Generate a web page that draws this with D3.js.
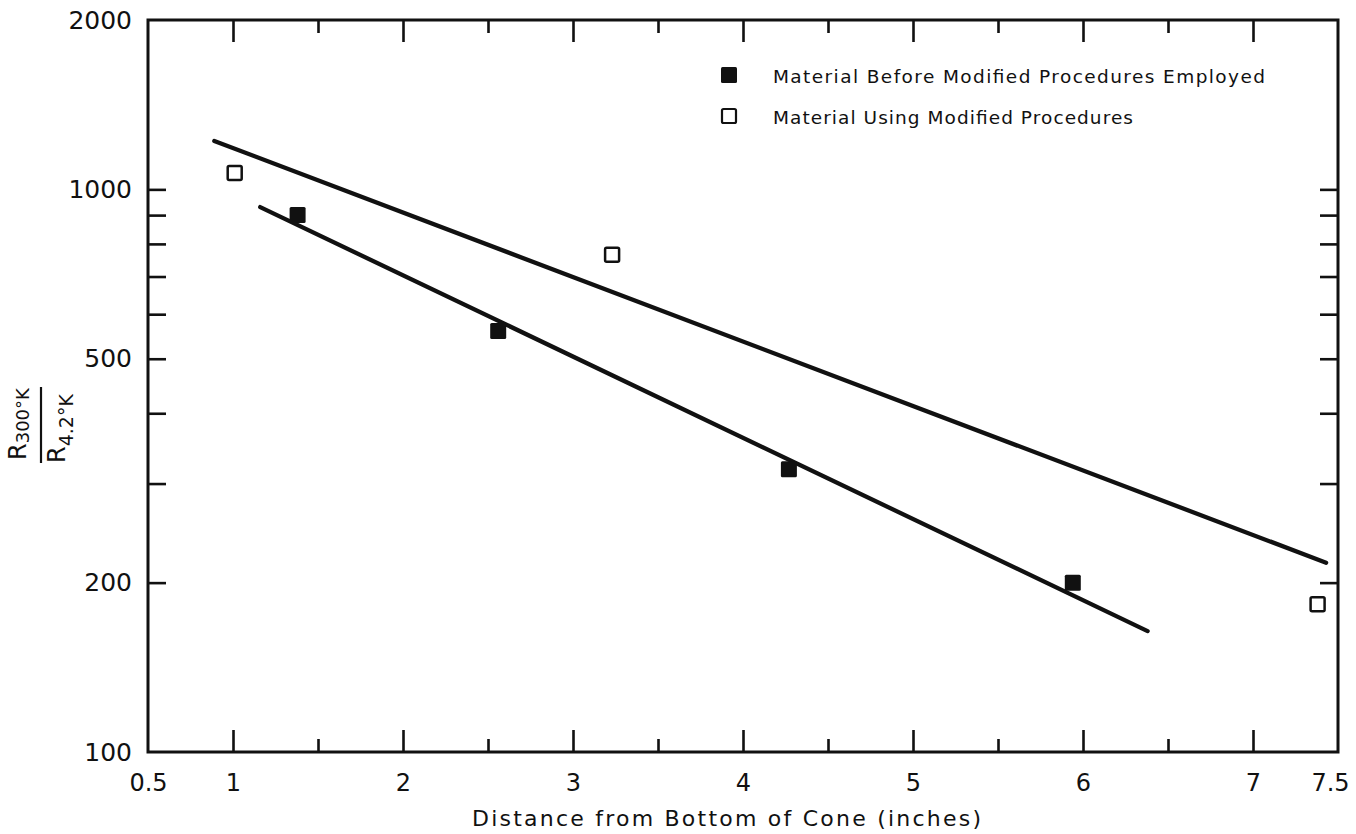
<!DOCTYPE html>
<html>
<head>
<meta charset="utf-8">
<script src="https://cdn.jsdelivr.net/npm/d3@7/dist/d3.min.js"></script>
<style>
  html, body { margin: 0; padding: 0; background: #fff; }
  svg { display: block; font-family: "DejaVu Sans", sans-serif; }
  .axis path.domain { display: none; }
  .axis line { stroke: #111; stroke-width: 2.6; }
  .axis text { fill: #111; }
</style>
</head>
<body>
<svg id="chart" width="1356" height="834"></svg>
<script>
// Resistance ratio vs. distance from cone bottom
const beforeX = [1.38, 2.56, 4.27, 5.94];
const beforeY = [900, 560, 318, 200];
const modifiedX = [1.01, 3.23, 7.38];
const modifiedY = [1069, 765, 183];

// fitted trend lines (end points)
const fitBeforeX = [1.16, 6.38];
const fitBeforeY = [930, 164];
const fitModifiedX = [0.89, 7.43];
const fitModifiedY = [1219, 217];

const xMajorTicks = [1, 2, 3, 4, 5, 6, 7];
const xMinorTicks = [1.5, 2.5, 3.5, 4.5, 5.5, 6.5];
const xTickLabels = [0.5, 1, 2, 3, 4, 5, 6, 7, 7.5];
const yTicks = [200, 300, 400, 500, 600, 700, 800, 900, 1000];
const yTickLabels = [100, 200, 500, 1000, 2000];

const legendLabels = [
  "Material Before Modified Procedures Employed",
  "Material Using Modified Procedures"
];

const svg = d3.select("#chart");
const plotL = 148, plotR = 1338, plotT = 20, plotB = 752;

const x = d3.scaleLinear().domain([0.5, 7.5]).range([plotL, plotR]);
const y = d3.scaleLog().domain([100, 2000]).range([plotB, plotT]);

const ink = "#111";

// frame
svg.append("rect")
  .attr("x", plotL).attr("y", plotT)
  .attr("width", plotR - plotL).attr("height", plotB - plotT)
  .attr("fill", "none").attr("stroke", ink).attr("stroke-width", 3);

// inward ticks on all four sides
const noLabel = () => "";
svg.append("g").attr("class", "axis").attr("transform", `translate(0,${plotB})`)
  .call(d3.axisBottom(x).tickValues(xMajorTicks).tickSize(-22).tickFormat(noLabel));
svg.append("g").attr("class", "axis").attr("transform", `translate(0,${plotB})`)
  .call(d3.axisBottom(x).tickValues(xMinorTicks).tickSize(-13).tickFormat(noLabel));
svg.append("g").attr("class", "axis").attr("transform", `translate(0,${plotT})`)
  .call(d3.axisTop(x).tickValues(xMajorTicks).tickSize(-22).tickFormat(noLabel));
svg.append("g").attr("class", "axis").attr("transform", `translate(0,${plotT})`)
  .call(d3.axisTop(x).tickValues(xMinorTicks).tickSize(-13).tickFormat(noLabel));
svg.append("g").attr("class", "axis").attr("transform", `translate(${plotL},0)`)
  .call(d3.axisLeft(y).tickValues(yTicks).tickSize(-18).tickFormat(noLabel));
svg.append("g").attr("class", "axis").attr("transform", `translate(${plotR},0)`)
  .call(d3.axisRight(y).tickValues(yTicks).tickSize(-18).tickFormat(noLabel));

// tick labels
const xl = svg.append("g").attr("class", "axis").attr("transform", `translate(0,${plotB})`)
  .call(d3.axisBottom(x).tickValues(xTickLabels).tickSize(0).tickPadding(22)
    .tickFormat(d => String(d)));
xl.selectAll("text").attr("font-size", 24).attr("font-family", "DejaVu Sans")
  .attr("dx", d => d === 7.5 ? -8 : 0);

const yl = svg.append("g").attr("class", "axis").attr("transform", `translate(${plotL},0)`)
  .call(d3.axisLeft(y).tickValues(yTickLabels).tickSize(0).tickPadding(16)
    .tickFormat(d => String(d)));
yl.selectAll("text").attr("font-size", 25).attr("font-family", "DejaVu Sans");

// x axis title
svg.append("text")
  .attr("x", 472).attr("y", 826)
  .attr("font-size", 22).attr("fill", ink)
  .attr("textLength", 509).attr("lengthAdjust", "spacing")
  .text("Distance from Bottom of Cone (inches)");

// y axis title: R(300°K) / R(4.2°K)
const yt = svg.append("g").attr("transform", "translate(41,425) rotate(-90)");
yt.append("line").attr("x1", -38).attr("x2", 38).attr("y1", 0).attr("y2", 0)
  .attr("stroke", ink).attr("stroke-width", 2.2);
const num = yt.append("text").attr("x", -35).attr("y", -15).attr("fill", ink).attr("font-size", 24);
num.append("tspan").text("R");
num.append("tspan").attr("dy", 3).attr("font-size", 18).text("300°K");
const den = yt.append("text").attr("x", -38).attr("y", 24).attr("fill", ink).attr("font-size", 24);
den.append("tspan").text("R");
den.append("tspan").attr("dy", 8).attr("font-size", 19).text("4.2°K");

// trend lines
const line = d3.line().x(d => x(d[0])).y(d => y(d[1]));
const fits = [
  d3.zip(fitModifiedX, fitModifiedY),
  d3.zip(fitBeforeX, fitBeforeY)
];
svg.selectAll("path.fit").data(fits).join("path")
  .attr("class", "fit")
  .attr("d", line)
  .attr("fill", "none").attr("stroke", ink)
  .attr("stroke-width", 4.3).attr("stroke-linecap", "round");

// markers
const s = 16;
svg.selectAll("rect.before").data(d3.zip(beforeX, beforeY)).join("rect")
  .attr("class", "before")
  .attr("x", d => x(d[0]) - s / 2).attr("y", d => y(d[1]) - s / 2)
  .attr("width", s).attr("height", s).attr("rx", 1.5)
  .attr("fill", ink);
svg.selectAll("rect.modified").data(d3.zip(modifiedX, modifiedY)).join("rect")
  .attr("class", "modified")
  .attr("x", d => x(d[0]) - (s - 2) / 2).attr("y", d => y(d[1]) - (s - 2) / 2)
  .attr("width", s - 2).attr("height", s - 2).attr("rx", 1.5)
  .attr("fill", "#fff").attr("stroke", ink).attr("stroke-width", 2.5);

// legend
const legendRows = [
  { label: legendLabels[0], filled: true, y: 83, len: 492 },
  { label: legendLabels[1], filled: false, y: 124, len: 360 }
];
const lg = svg.append("g");
legendRows.forEach(r => {
  lg.append("rect")
    .attr("x", r.filled ? 721 : 722).attr("y", r.y - (r.filled ? 16 : 15))
    .attr("width", r.filled ? 16 : 14).attr("height", r.filled ? 16 : 14)
    .attr("rx", 1.5)
    .attr("fill", r.filled ? ink : "#fff")
    .attr("stroke", ink).attr("stroke-width", r.filled ? 0 : 2.2);
  lg.append("text")
    .attr("x", 773).attr("y", r.y)
    .attr("font-size", 18.5).attr("fill", ink)
    .attr("textLength", r.len).attr("lengthAdjust", "spacing")
    .text(r.label);
});
</script>
</body>
</html>
